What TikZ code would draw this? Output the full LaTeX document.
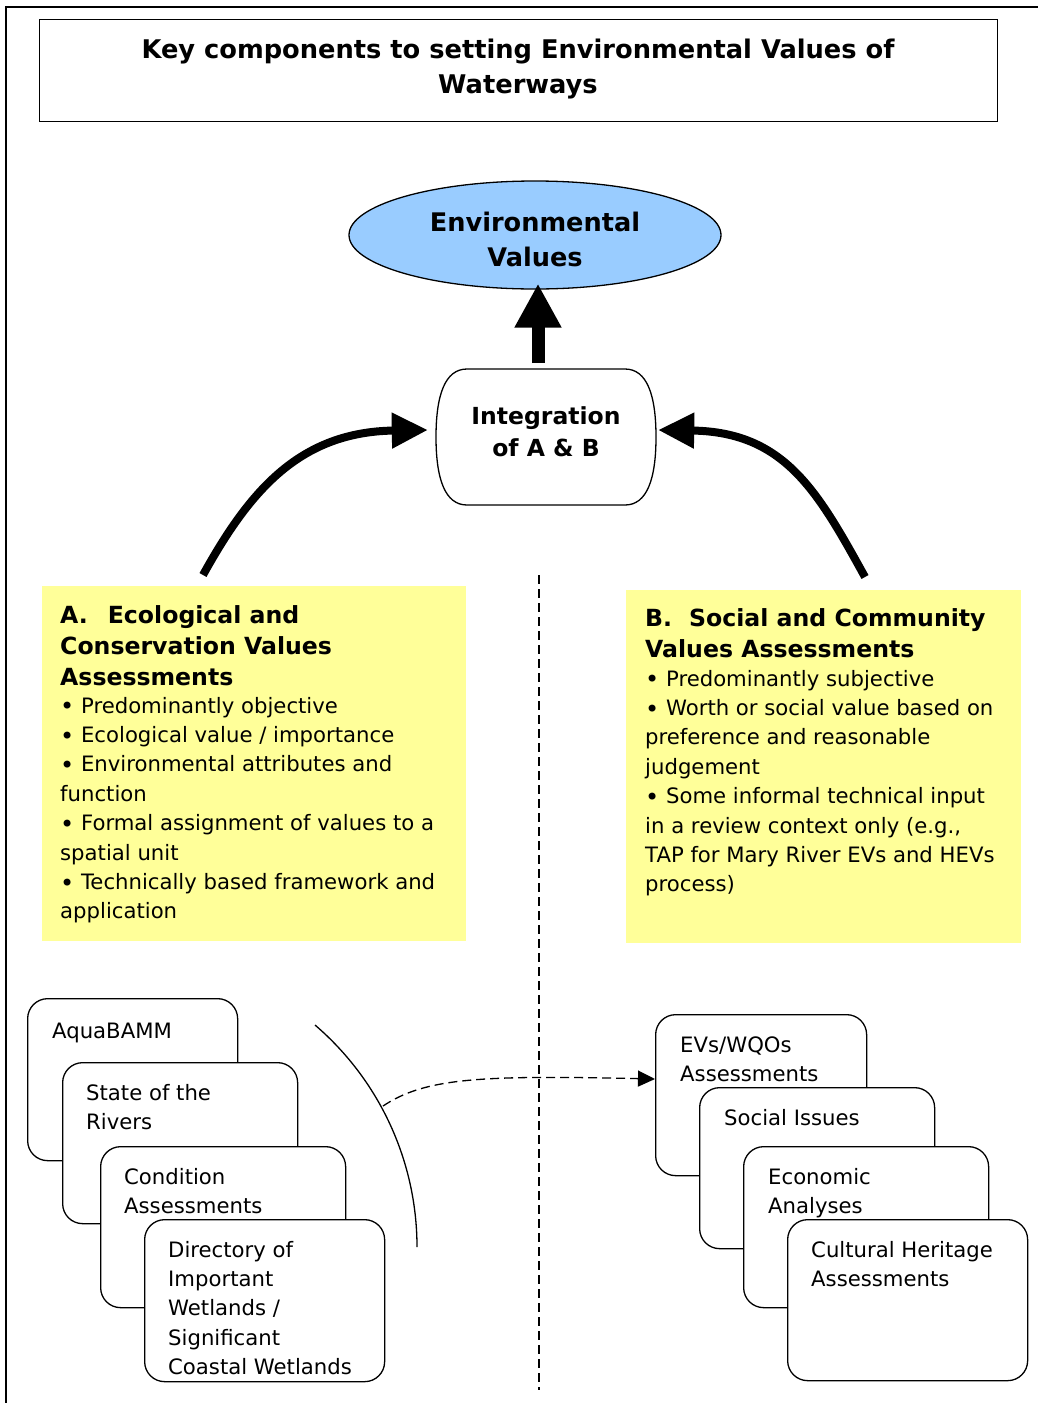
\documentclass[tikz,border=0pt]{standalone}
\usepackage{fontspec}
\setmainfont{DejaVu Sans}
\usetikzlibrary{arrows.meta,calc,shapes.geometric}
\definecolor{ylw}{HTML}{FFFF99}
\definecolor{evblue}{HTML}{99CCFF}
\newcommand{\bulmark}{\raisebox{-1.6pt}{\fontsize{24pt}{29.4pt}\selectfont •}}
\begin{document}
\begin{tikzpicture}[x=1pt,y=-1pt,
  thinln/.style={line width=1.3pt},
  bodytxt/.style={font=\fontsize{21.2pt}{29.4pt}\selectfont, inner sep=0pt, anchor=base west, align=left},
  headtxt/.style={font=\fontsize{23.6pt}{31pt}\selectfont\bfseries, inner sep=0pt, anchor=base west, align=left},
  stackbox/.style n args={2}{draw, line width=1.3pt, fill=white, rounded corners=20pt, anchor=north west, inner sep=0pt, minimum width=#1, minimum height=#2},
  yellowbox/.style n args={2}{fill=ylw, anchor=north west, inner sep=0pt, minimum width=#1, minimum height=#2},
  bigarrow/.style={line width=8pt, -{Triangle[length=36pt,width=34pt]}},
  dashline/.style={line width=1.3pt, dash pattern=on 9pt off 5pt}
]
\useasboundingbox (0,0) rectangle (1038,1403);

% outer frame
\draw[line width=1.5pt] (6,1403) -- (6,7) -- (1038,7);

% title (anchor base = baseline of last line)
\node[draw, thinln, anchor=north west, inner sep=0pt, minimum width=958pt, minimum height=102pt] (titlebox) at (39,19) {};
\node[font=\fontsize{25.7pt}{35pt}\selectfont\bfseries, align=center, anchor=base, inner sep=0pt] (titletext) at (518,93) {Key components to setting Environmental Values of\\Waterways};

% environmental values ellipse
\node[ellipse, draw, thinln, fill=evblue, minimum width=372pt, minimum height=108pt, inner sep=0pt] (env) at (535,235) {};
\node[font=\fontsize{25.6pt}{35pt}\selectfont\bfseries, align=center, anchor=base, inner sep=0pt] (envtext) at (535,266) {Environmental\\Values};

% integration box
\node[minimum width=220pt, minimum height=136pt, inner sep=0pt] (integ) at (546,437) {};
\draw[thinln, fill=white] (467,369) -- (625,369) .. controls (647,369) and (656,395) .. (656,437)
  .. controls (656,479) and (647,505) .. (625,505) -- (467,505)
  .. controls (445,505) and (436,479) .. (436,437)
  .. controls (436,395) and (445,369) .. (467,369) -- cycle;
\node[font=\fontsize{23.5pt}{32pt}\selectfont\bfseries, align=center, anchor=base, inner sep=0pt] (integtext) at (546,456) {Integration\\of A \& B};

% up arrow
\coordinate (upstart) at (538,363);
\draw[line width=13pt, -{Triangle[length=44pt,width=44pt]}] (upstart) -- ($(upstart |- env.south)+(0,-6)$);

% yellow boxes
\node[yellowbox={424pt}{355pt}] (boxA) at (42,586) {};
\node[yellowbox={395pt}{353pt}] (boxB) at (626,590) {};

\node[headtxt] (headA) at (60,685) {A.\hspace{20pt}Ecological and\\Conservation Values\\Assessments};
\node[bodytxt] (bodyA) at (60,918.8) {\bulmark{} Predominantly objective\\\bulmark{} Ecological value / importance\\\bulmark{} Environmental attributes and\\function\\\bulmark{} Formal assignment of values to a\\spatial unit\\\bulmark{} Technically based framework and\\application};

\node[headtxt] (headB) at (645,657) {B.\hspace{17pt}Social and Community\\Values Assessments};
\node[bodytxt] (bodyB) at (645,891.8) {\bulmark{} Predominantly subjective\\\bulmark{} Worth or social value based on\\preference and reasonable\\judgement\\\bulmark{} Some informal technical input\\in a review context only (e.g.,\\TAP for Mary River EVs and HEVs\\process)};

% curved arrows
\coordinate (astart) at (203,575);
\draw[bigarrow] (astart) .. controls (250,490) and (300,432) .. ($(integ.west)+(-8,-7)$);
\coordinate (bstart) at (865,577);
\draw[bigarrow] (bstart) .. controls (818,492) and (785,432) .. ($(integ.east)+(2,-7)$);

% divider
\coordinate (divtop) at (539,575);
\coordinate (divbot) at (539,1390);
\draw[dashline] (divtop) -- (divbot);

% left stack
\node[stackbox={210pt}{162pt}] (lb1) at (27,998) {};
\node[bodytxt] (lt1) at (52,1038) {AquaBAMM};
\node[stackbox={235pt}{161pt}] (lb2) at (62,1062) {};
\node[bodytxt] (lt2) at (86,1129.4) {State of the\\Rivers};
\node[stackbox={245pt}{161pt}] (lb3) at (100,1146) {};
\node[bodytxt] (lt3) at (124,1213.4) {Condition\\Assessments};
\node[stackbox={240pt}{162pt}] (lb4) at (144,1219) {};
\node[bodytxt] (lt4) at (168,1374.6) {Directory of\\Important\\Wetlands /\\Significant\\Coastal Wetlands};

% right stack
\node[stackbox={211pt}{161pt}] (rb1) at (655,1014) {};
\node[bodytxt] (rt1) at (680,1081.4) {EVs/WQOs\\Assessments};
\node[stackbox={235pt}{161pt}] (rb2) at (699,1087) {};
\node[bodytxt] (rt2) at (724,1125) {Social Issues};
\node[stackbox={245pt}{161pt}] (rb3) at (743,1146) {};
\node[bodytxt] (rt3) at (768,1213.4) {Economic\\Analyses};
\node[stackbox={240pt}{161pt}] (rb4) at (787,1219) {};
\node[bodytxt] (rt4) at (811,1286.4) {Cultural Heritage\\Assessments};

% arc bracket and dashed connector
\coordinate (arcA) at (315,1025);
\coordinate (arcB) at (417,1247);
\draw[thinln] (arcA) .. controls (379.7,1080.5) and (417,1161.6) .. (arcB);
\coordinate (arcpt) at (383,1106);
\draw[dashline, -{Triangle[length=17pt,width=16pt]}] (arcpt) .. controls (425,1078) and (480,1075) .. ($(rb1.north west)+(0,65)$);
\end{tikzpicture}
\end{document}
